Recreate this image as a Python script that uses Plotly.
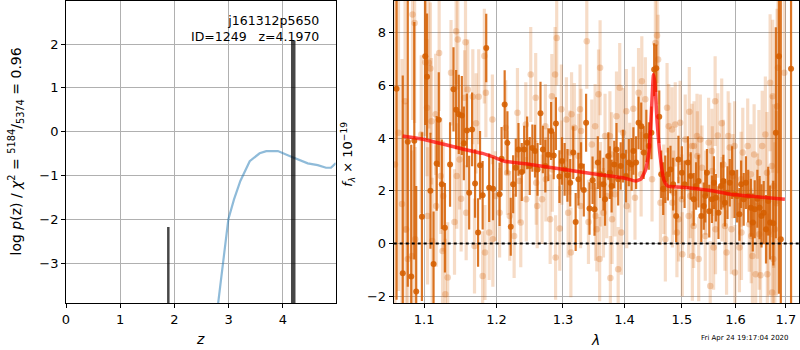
import plotly.graph_objects as go

# ---------------- left panel: redshift fit ----------------
chi_z = [2.70, 2.807, 2.899, 2.996, 3.10, 3.217, 3.39, 3.573, 3.695, 3.91,
         4.125, 4.246, 4.461, 4.645, 4.798, 4.89, 4.98]
chi_logp = [-5.0, -3.90, -2.98, -1.99, -1.54, -1.12, -0.67, -0.49, -0.44, -0.44,
            -0.55, -0.61, -0.72, -0.76, -0.82, -0.82, -0.71]
pz_z = [1.888, 4.193]
pz_peak = [-2.17, 2.08]
pz_width = [2.5, 4.5]

# ---------------- right panel: spectrum ----------------
dark_lam = [
    1.064, 1.072, 1.0785, 1.083, 1.087, 1.0895, 1.097, 1.1014, 1.1038, 1.1083,
    1.1125, 1.1167, 1.1195, 1.1236, 1.1278, 1.1348, 1.1395, 1.1431, 1.1468, 1.151,
    1.1538, 1.158, 1.1612, 1.1653, 1.1695, 1.1737, 1.1765, 1.1802, 1.1853, 1.1895,
    1.195, 1.2045, 1.2074, 1.2119, 1.2159, 1.2208, 1.2243, 1.2282, 1.2322, 1.2371,
    1.2407, 1.2451, 1.249, 1.253, 1.257, 1.2608, 1.2653, 1.2689, 1.2727, 1.2772,
    1.2816, 1.2856, 1.289, 1.2945, 1.2985, 1.3026, 1.307, 1.3114, 1.3162, 1.32,
    1.3244, 1.3286, 1.333, 1.3367, 1.3422, 1.3471, 1.3503, 1.3557, 1.3594, 1.3649,
    1.3675, 1.373, 1.3756, 1.3784, 1.3828, 1.3865, 1.3893, 1.3935, 1.3974, 1.4026,
    1.4072, 1.412, 1.415, 1.4196, 1.4238, 1.4284, 1.4326, 1.4372, 1.4415, 1.446,
    1.4508, 1.4545, 1.4597, 1.4632, 1.4667, 1.4703, 1.475, 1.4796, 1.4844, 1.4897,
    1.4938, 1.5, 1.5049, 1.511, 1.516, 1.5215, 1.5258, 1.5304, 1.5355, 1.54,
    1.5429, 1.546, 1.5503, 1.5553, 1.559, 1.5627, 1.5676, 1.5724, 1.5768, 1.5798,
    1.5847, 1.589, 1.5934, 1.5982, 1.6032, 1.6076, 1.6109, 1.6159, 1.6203, 1.6247,
    1.6299, 1.6337, 1.6375, 1.6427, 1.6471, 1.6509, 1.6553, 1.6599, 1.6643, 1.6681,
    1.6745, 1.6796, 1.6859, 1.6897, 1.7107]
dark_flux = [
    5.87, -1.13, 3.86, -1.25, 3.90, -1.82, 1.02, 7.10, 6.33, 2.00,
    -0.78, 3.04, 4.70, 2.25, 0.60, 3.00, 5.85, 5.08, 4.90, 4.86,
    3.80, 4.29, 1.93, 4.33, 2.28, 0.42, 2.97, 1.83, 7.42, 2.12,
    2.08, 1.87, 3.22, 5.27, 3.82, 0.64, 2.25, 2.88, 3.57, 2.71,
    3.57, 3.82, 2.94, 3.62, 3.51, 2.81, 4.94, 3.57, 2.94, 3.37,
    4.27, 3.34, 4.55, 2.54, 3.13, 2.81, 2.59, 2.31, 3.45, 0.82,
    2.44, 2.94, 2.03, 4.58, 1.33, 2.40, 1.30, 3.07, 2.63, 2.25,
    1.68, 3.32, 2.69, 2.18, 3.00, 3.57, 2.44, 2.94, 3.32, 2.56,
    3.07, 3.00, 3.51, 3.07, 4.58, 4.45, 3.45, 4.08, 3.70, 4.20,
    6.60, 6.65, 4.81, 2.63, 2.08, 2.44, 2.63, 2.81, 2.25, 1.05,
    3.19, 2.69, 2.25, 3.07, 2.56, 1.68, 2.18, 2.37, 1.05, 1.42,
    1.80, 2.69, 1.23, 1.68, 2.31, 1.74, 1.17, 2.18, 2.37, 1.55,
    1.93, 2.31, 2.69, 1.87, 1.80, 1.11, 2.25, 1.68, 2.31, 1.80,
    1.36, 0.80, 1.30, 1.70, 1.36, 1.05, 1.17, 0.54, 1.61, 0.80,
    0.77, 4.20, 7.10, 0.16, 6.63]
dark_err = [
    8.0, 7.5, 5.5, 5.0, 4.5, 4.0, 3.2, 2.6, 2.4, 2.2,
    2.0, 1.8, 1.8, 1.7, 1.7, 1.6, 1.6, 1.5, 1.5, 1.5,
    1.4, 1.4, 1.4, 1.4, 1.3, 1.3, 1.3, 1.3, 1.3, 1.3,
    1.2, 1.2, 1.2, 1.3, 1.2, 1.1, 1.1, 1.1, 1.0, 1.1,
    0.9, 1.0, 1.1, 0.9, 1.0, 1.0, 1.2, 0.9, 1.0, 1.0,
    1.1, 0.9, 1.0, 1.0, 0.9, 1.0, 1.0, 0.9, 1.0, 1.1,
    1.0, 0.9, 1.0, 1.1, 1.0, 0.9, 1.0, 1.0, 0.9, 1.0,
    1.0, 0.9, 1.0, 1.0, 0.9, 1.0, 1.0, 0.9, 1.0, 1.0,
    0.9, 1.0, 0.9, 1.0, 1.0, 0.9, 1.0, 1.0, 0.9, 1.0,
    1.0, 0.9, 1.0, 0.9, 1.0, 0.9, 1.0, 0.9, 1.0, 1.0,
    0.9, 1.0, 0.9, 1.0, 0.9, 1.0, 0.9, 1.0, 1.0, 0.9,
    1.0, 0.9, 1.0, 0.9, 1.0, 0.9, 1.0, 0.9, 1.0, 0.9,
    1.0, 0.9, 1.0, 0.9, 1.0, 1.0, 0.9, 1.0, 1.0, 1.0,
    1.1, 1.1, 1.1, 1.1, 1.2, 1.2, 1.2, 1.3, 1.3, 1.4,
    1.6, 4.0, 9.0, 10.0, 9.0]

light_lam = [
    1.062, 1.0665, 1.071, 1.075, 1.0763, 1.0785, 1.0838, 1.0847, 1.0874, 1.0882,
    1.0961, 1.1014, 1.1038, 1.1045, 1.1061, 1.1083, 1.1097, 1.1107, 1.1153, 1.116,
    1.12, 1.1222, 1.1246, 1.1255, 1.1284, 1.1316, 1.1361, 1.1409, 1.1431, 1.144,
    1.1454, 1.1478, 1.15, 1.1548, 1.1561, 1.157, 1.1593, 1.1663, 1.1687, 1.1709,
    1.1746, 1.1802, 1.1826, 1.1835, 1.1848, 1.1895, 1.1941, 1.1948, 1.1985, 1.2045,
    1.2134, 1.2159, 1.2193, 1.2258, 1.2307, 1.2333, 1.2356, 1.2431, 1.2438, 1.2505,
    1.258, 1.2588, 1.2603, 1.2677, 1.2728, 1.2735, 1.2801, 1.2827, 1.2835, 1.2877,
    1.2885, 1.2902, 1.295, 1.2975, 1.2982, 1.3054, 1.3081, 1.3107, 1.3124, 1.3135,
    1.3179, 1.3244, 1.327, 1.3278, 1.3286, 1.3378, 1.3405, 1.3459, 1.3513, 1.352,
    1.3541, 1.3568, 1.3587, 1.3594, 1.3601, 1.3649, 1.3675, 1.3703, 1.3756, 1.3763,
    1.3784, 1.3791, 1.384, 1.3865, 1.3893, 1.3919, 1.3946, 1.3974, 1.403, 1.4037,
    1.4088, 1.4148, 1.4177, 1.4238, 1.4282, 1.4294, 1.4355, 1.4471, 1.4529, 1.4559,
    1.4577, 1.4618, 1.4676, 1.4705, 1.4735, 1.4765, 1.4823, 1.483, 1.4852, 1.4881,
    1.4911, 1.4941, 1.4969, 1.5, 1.5008, 1.5061, 1.5123, 1.5135, 1.5153, 1.5184,
    1.5191, 1.5215, 1.522, 1.5276, 1.5283, 1.5307, 1.5337, 1.5368, 1.5429, 1.5436,
    1.5491, 1.5521, 1.5553, 1.556, 1.5584, 1.5613, 1.562, 1.5663, 1.5737, 1.5744,
    1.5768, 1.5798, 1.5829, 1.586, 1.5889, 1.5921, 1.5953, 1.5982, 1.599, 1.6076,
    1.6109, 1.6116, 1.6141, 1.6237, 1.6268, 1.6299, 1.6306, 1.633, 1.6363, 1.6394,
    1.6427, 1.6457, 1.6464, 1.649, 1.6523, 1.6586, 1.6618, 1.6625, 1.6648, 1.6681,
    1.6714, 1.6721, 1.6733, 1.6745, 1.6752, 1.6776, 1.6809, 1.6821, 1.684, 1.6968]
light_flux = [
    3.00, 4.20, 1.50, 5.40, 0.54, -0.59, -0.47, 8.69, 8.37, 0.16,
    4.14, 6.88, 5.15, 1.05, 6.86, 6.64, 4.64, 0.10, 4.90, 1.42,
    7.23, 2.56, -0.28, 1.80, -1.92, -1.29, 6.48, 0.82, 8.05, 2.56,
    7.74, 3.19, 1.70, 5.53, 7.64, 1.17, 5.84, 5.57, -0.09, 4.56,
    5.57, -1.23, 7.11, -0.34, 5.72, 0.42, 4.71, 0.16, 1.80, 1.17,
    4.39, 2.69, 1.05, 0.29, 4.96, 2.37, 0.80, 4.52, 1.68, 6.41,
    5.53, 2.31, 1.42, 1.68, 4.45, 2.44, 0.92, 5.59, 2.81, 6.41,
    -0.53, 7.80, 0.57, 5.09, 3.07, 4.71, 1.17, 3.45, -0.34, 4.90,
    4.39, 3.32, 5.09, 1.42, 4.27, 7.67, 0.82, 3.76, 4.45, 1.05,
    0.54, 5.66, -0.59, 6.67, 2.25, 1.17, 4.08, 1.80, 4.08, -1.31,
    3.38, 0.92, 1.87, 4.83, -0.97, 5.91, 0.42, 4.20, 5.02, 1.42,
    2.88, 5.11, 1.74, 5.72, 2.63, 6.16, 5.47, 2.44, 7.61, 7.89,
    6.98, 1.55, 2.06, 0.16, 5.15, 4.45, 4.33, 1.55, 1.93, 4.52,
    0.42, 0.92, 4.58, 1.68, -0.41, 3.95, 1.05, 5.00, 1.80, 3.70,
    -0.47, 0.67, 3.70, 4.08, 3.32, -0.59, 3.95, 2.88, 0.29, 1.93,
    3.83, -1.61, 3.51, 2.75, -0.15, 5.40, 0.54, 4.10, 4.56, 1.68,
    3.00, 0.67, -0.34, 4.08, 3.64, 0.54, 2.56, 3.70, -1.10, -0.15,
    2.44, 0.42, 3.45, 3.70, 0.73, 2.63, 0.29, -0.47, 3.38, -1.16,
    1.42, 3.07, 0.35, -1.20, 3.70, 4.14, 2.69, -1.16, 0.42, 6.10,
    2.94, -1.86, 5.59, -0.59, 2.18, 0.54, 1.53, 5.21, 6.67, 6.48]
light_err = [
    7.0, 6.0, 5.5, 5.0, 4.8, 4.5, 4.0, 4.0, 3.8, 3.5,
    3.0, 2.8, 2.6, 2.6, 2.5, 2.5, 2.4, 2.4, 2.3, 2.3,
    2.2, 2.2, 2.2, 2.1, 2.1, 2.1, 2.0, 2.0, 2.0, 2.0,
    1.9, 1.9, 2.0, 1.8, 1.9, 1.8, 1.9, 1.8, 1.8, 1.9,
    1.8, 1.7, 1.8, 1.8, 1.7, 1.8, 1.7, 1.8, 1.7, 1.7,
    1.8, 1.6, 1.7, 1.6, 1.7, 1.6, 1.7, 1.6, 1.6, 1.8,
    1.7, 1.6, 1.6, 1.7, 1.6, 1.6, 1.7, 1.6, 1.6, 1.8,
    1.6, 1.8, 1.6, 1.7, 1.6, 1.6, 1.7, 1.6, 1.7, 1.6,
    1.7, 1.6, 1.7, 1.6, 1.6, 1.8, 1.6, 1.7, 1.6, 1.7,
    1.6, 1.7, 1.6, 1.8, 1.6, 1.7, 1.6, 1.6, 1.7, 1.6,
    1.6, 1.7, 1.6, 1.7, 1.6, 1.7, 1.6, 1.7, 1.6, 1.6,
    1.7, 1.6, 1.6, 1.7, 1.6, 1.7, 1.6, 1.6, 1.8, 1.8,
    1.7, 1.6, 1.7, 1.6, 1.7, 1.6, 1.6, 1.7, 1.6, 1.6,
    1.7, 1.6, 1.6, 1.7, 1.6, 1.7, 1.6, 1.7, 1.6, 1.6,
    1.7, 1.6, 1.7, 1.6, 1.7, 1.6, 1.7, 1.6, 1.7, 1.6,
    1.7, 1.7, 1.6, 1.7, 1.6, 1.7, 1.7, 1.6, 1.7, 1.6,
    1.7, 1.7, 1.6, 1.7, 1.7, 1.7, 1.6, 1.7, 1.8, 1.7,
    1.8, 1.8, 1.7, 1.8, 1.8, 1.9, 1.8, 1.9, 1.9, 2.0,
    2.0, 2.0, 2.1, 2.1, 2.1, 2.2, 2.3, 2.3, 2.4, 2.6,
    2.7, 2.8, 2.9, 3.0, 3.1, 3.3, 3.5, 3.7, 4.0, 4.5]

model_lam = [1.0719, 1.10, 1.155, 1.18, 1.196, 1.212, 1.25, 1.302, 1.356, 1.38, 1.40,
             1.419, 1.428, 1.436, 1.442, 1.446, 1.4496, 1.452, 1.456, 1.462,
             1.468, 1.474, 1.50, 1.55, 1.590, 1.65, 1.698]
model_flux = [4.08, 3.95, 3.57, 3.42, 3.28, 3.12, 3.00, 2.81, 2.62, 2.55, 2.48,
              2.37, 2.45, 2.80, 3.50, 5.00, 6.41, 6.10, 4.60, 3.20,
              2.40, 2.18, 2.14, 2.02, 1.87, 1.76, 1.68]

VERM = "213,94,0"
FONT = "DejaVu Sans, Verdana, sans-serif"

fig = go.Figure()

# left panel
fig.add_trace(go.Scatter(x=chi_z, y=chi_logp, mode="lines",
                         line=dict(color="rgba(31,119,180,0.5)", width=2.2),
                         xaxis="x", yaxis="y", hoverinfo="skip"))
base = -4.5
for zz, pk, w in zip(pz_z, pz_peak, pz_width):
    fig.add_trace(go.Scatter(x=[zz, zz], y=[base, pk], mode="lines",
                             line=dict(color="rgba(0,0,0,0.72)", width=w),
                             xaxis="x", yaxis="y", hoverinfo="skip"))

# right panel
fig.add_trace(go.Scatter(x=light_lam, y=light_flux, mode="markers",
                         marker=dict(color=f"rgba({VERM},0.26)", size=6.5, line=dict(width=0)),
                         error_y=dict(type="data", array=light_err, color=f"rgba({VERM},0.22)",
                                      thickness=3.2, width=0),
                         xaxis="x2", yaxis="y2", hoverinfo="skip"))
fig.add_trace(go.Scatter(x=dark_lam, y=dark_flux, mode="markers",
                         marker=dict(color=f"rgba({VERM},0.88)", size=6, line=dict(width=0)),
                         error_y=dict(type="data", array=dark_err, color=f"rgba({VERM},0.85)",
                                      thickness=2.2, width=0),
                         xaxis="x2", yaxis="y2", hoverinfo="skip"))
fig.add_trace(go.Scatter(x=model_lam, y=model_flux, mode="lines",
                         line=dict(color="rgba(255,0,0,0.7)", width=3.5, shape="spline", smoothing=0.4),
                         xaxis="x2", yaxis="y2", hoverinfo="skip"))

fig.add_shape(type="line", xref="x2 domain", yref="y2", x0=0, x1=1, y0=0, y1=0,
              line=dict(color="black", width=2, dash="dot"))

axis_common = dict(showline=True, mirror=True, linecolor="black", linewidth=1,
                   showgrid=True, gridcolor="#b0b0b0", gridwidth=1,
                   ticks="outside", ticklen=4, tickcolor="black",
                   tickfont=dict(family=FONT, size=13, color="black"), zeroline=False)

fig.update_layout(
    width=800, height=350, margin=dict(l=0, r=0, t=0, b=0),
    paper_bgcolor="white", plot_bgcolor="white", showlegend=False,
    font=dict(family=FONT, color="black"),
    xaxis=dict(domain=[0.0779, 0.4166], range=[0, 4.975], anchor="y",
               tickvals=[0, 1, 2, 3, 4], **axis_common),
    yaxis=dict(domain=[0.1314, 0.9971], range=[-3.905, 2.98], anchor="x",
               tickvals=[-3, -2, -1, 0, 1, 2], **axis_common),
    xaxis2=dict(domain=[0.4896, 0.9991], type="log", range=[0.02547, 0.23747], anchor="y2",
                tickvals=[1.1, 1.2, 1.3, 1.4, 1.5, 1.6, 1.7],
                ticktext=["1.1", "1.2", "1.3", "1.4", "1.5", "1.6", "1.7"], **axis_common),
    yaxis2=dict(domain=[0.1314, 0.9971], range=[-2.26, 9.2], anchor="x2",
                tickvals=[-2, 0, 2, 4, 6, 8], **axis_common),
)

ann = [
    dict(xref="x", yref="y", x=4.70, y=2.75, xanchor="right", yanchor="top", align="right",
         text="j161312p5650<br>ID=1249\u00a0\u00a0\u00a0z=4.1970", showarrow=False,
         font=dict(family=FONT, size=12.5, color="black")),
    dict(xref="paper", yref="paper", x=197 / 800, y=(350 - 340) / 350, xanchor="center", yanchor="middle",
         text="<i>z</i>", showarrow=False, font=dict(family=FONT, size=14)),
    dict(xref="paper", yref="paper", x=594 / 800, y=(350 - 341) / 350, xanchor="center", yanchor="middle",
         text="<i>λ</i>", showarrow=False, font=dict(family=FONT, size=14)),
    dict(xref="paper", yref="paper", x=12 / 800, y=(350 - 152) / 350, xanchor="center", yanchor="middle",
         textangle=-90,
         text="log <i>p</i>(z) / <i>χ</i><sup>2</sup> = <sup>5184</sup>/<sub>5374</sub> = 0.96",
         showarrow=False, font=dict(family=FONT, size=14)),
    dict(xref="paper", yref="paper", x=345 / 800, y=(350 - 155) / 350, xanchor="center", yanchor="middle",
         textangle=-90, text="<i>f</i><sub><i>λ</i></sub> × 10<sup>−19</sup>",
         showarrow=False, font=dict(family=FONT, size=13)),
    dict(xref="paper", yref="paper", x=745 / 800, y=(350 - 339) / 350, xanchor="center", yanchor="middle",
         text="Fri Apr 24 19:17:04 2020", showarrow=False, font=dict(family=FONT, size=7)),
]
fig.update_layout(annotations=ann)

fig.write_html("out.html")
